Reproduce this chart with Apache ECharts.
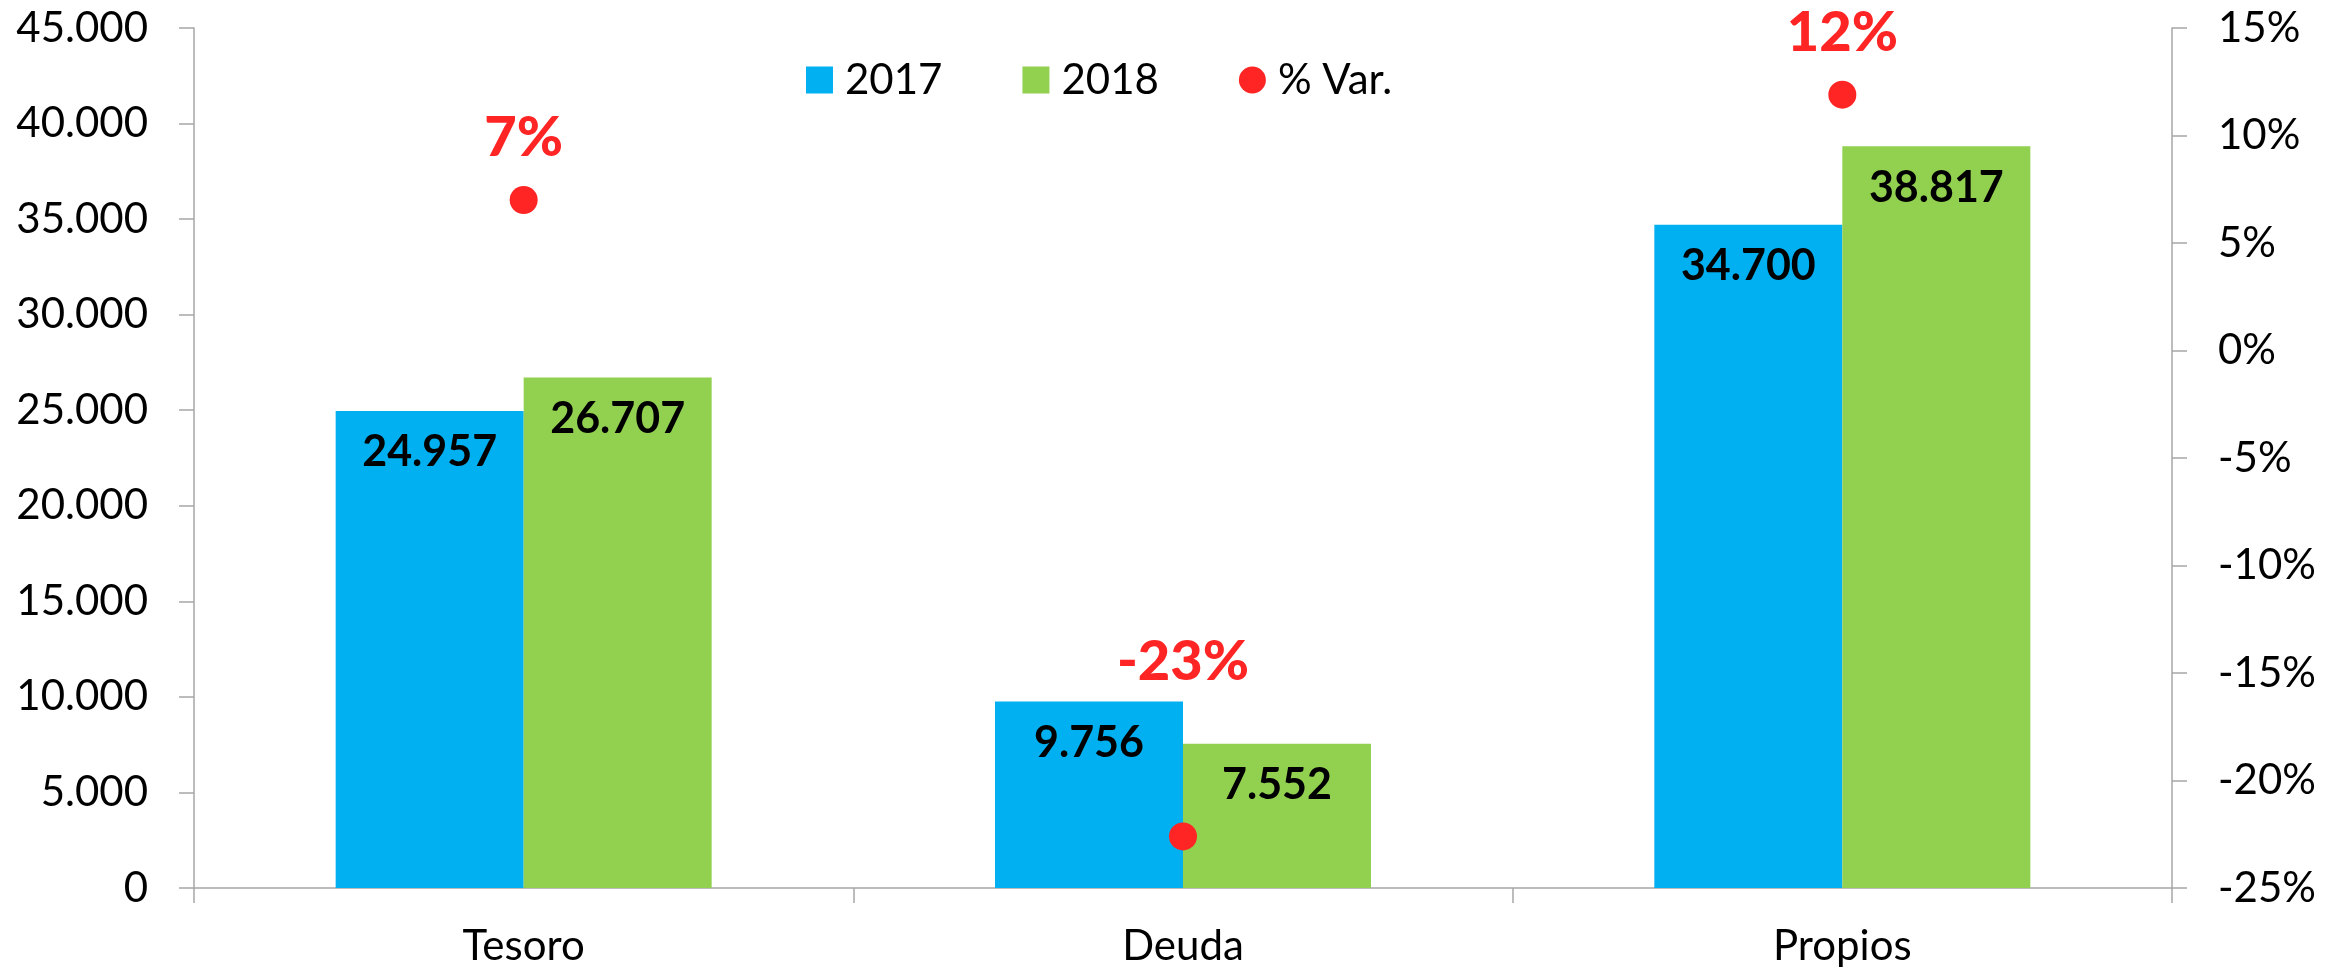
<!DOCTYPE html>
<html>
<head>
<meta charset="utf-8">
<title>Tesoro / Deuda / Propios</title>
<script src="https://cdn.jsdelivr.net/npm/echarts@6/dist/echarts.min.js"></script>
<style>
    html, body { margin: 0; padding: 0; background: #fff; }
    #chart { width: 2341px; height: 974px; }
</style>
</head>
<body>
<div id="chart"></div>
<script>
    // datos
    var categories = ['Tesoro', 'Deuda', 'Propios'];
    var values2017 = [24957, 9756, 34700];
    var values2018 = [26707, 7552, 38817];
    var pctVar = [7.0, -22.6, 11.9];      // % variacion (eje derecho)
    var leftTicks = { min: 0, max: 45000, step: 5000 };
    var rightTicks = { min: -25, max: 15, step: 5 };

    var RED = '#ff2525';
    var FONT = 'Lato';

    // 45000 -> "45.000"
    function fmt(v){
        return String(v).replace(/\B(?=(\d{3})+(?!\d))/g, '.');
    }

    // el punto de Deuda lleva la etiqueta por encima de las barras
    var varData = [];
    for(var i=0; i<pctVar.length; i++){
        var item = { value: pctVar[i] };
        if(i == 1){
            item.label = { offset: [0, -112] };
        }
        varData.push(item);
    }

    var axisLine = { show: true, lineStyle: { color: '#a6a6a6', width: 1.5 } };
    var axisTick = { show: true, length: 15, lineStyle: { color: '#a6a6a6', width: 1.5 } };

    var option = {
        animation: false,
        backgroundColor: '#fff',
        textStyle: { fontFamily: FONT },
        legend: {
            left: 801,
            top: 54,
            itemWidth: 27,
            itemHeight: 27,
            itemGap: 80,
            textStyle: { fontFamily: FONT, fontSize: 42, color: '#000', lineHeight: 42, padding: [0, 0, 0, 7] },
            data: [
                { name: '2017', icon: 'rect' },
                { name: '2018', icon: 'rect' },
                { name: '% Var.', icon: 'circle' }
            ]
        },
        grid: { left: 194, right: 169, top: 28, bottom: 86, containLabel: false },
        xAxis: {
            type: 'category',
            data: categories,
            axisLine: axisLine,
            axisTick: axisTick,
            axisLabel: { fontFamily: FONT, fontSize: 42, color: '#000', margin: 37 },
            splitLine: { show: false }
        },
        yAxis: [
            {
                type: 'value',
                min: leftTicks.min, max: leftTicks.max, interval: leftTicks.step,
                axisLine: axisLine,
                axisTick: axisTick,
                splitLine: { show: false },
                axisLabel: { fontFamily: FONT, fontSize: 42, color: '#000', margin: 46, formatter: fmt }
            },
            {
                type: 'value',
                position: 'right',
                min: rightTicks.min, max: rightTicks.max, interval: rightTicks.step,
                axisLine: axisLine,
                axisTick: axisTick,
                splitLine: { show: false },
                axisLabel: { fontFamily: FONT, fontSize: 42, color: '#000', margin: 46, formatter: '{value}%' }
            }
        ],
        series: [
            {
                name: '2017',
                type: 'bar',
                barWidth: 188,
                barGap: '0%',
                itemStyle: { color: '#00b0f0' },
                label: {
                    show: true, position: 'insideTop', distance: 20,
                    fontFamily: FONT, fontSize: 43, fontWeight: 'bold', color: '#000',
                    formatter: function(p){ return fmt(p.value); }
                },
                data: values2017
            },
            {
                name: '2018',
                type: 'bar',
                barWidth: 188,
                barGap: '0%',
                itemStyle: { color: '#92d050' },
                label: {
                    show: true, position: 'insideTop', distance: 20,
                    fontFamily: FONT, fontSize: 43, fontWeight: 'bold', color: '#000',
                    formatter: function(p){ return fmt(p.value); }
                },
                data: values2018
            },
            {
                name: '% Var.',
                type: 'scatter',
                yAxisIndex: 1,
                symbol: 'circle',
                symbolSize: 28,
                z: 5,
                itemStyle: { color: RED, opacity: 1 },
                label: {
                    show: true, position: 'top', distance: 20,
                    fontFamily: FONT, fontSize: 56, fontWeight: 900, color: RED,
                    formatter: function(p){ return Math.round(p.value) + '%'; }
                },
                data: varData
            }
        ]
    };

    var myChart = echarts.init(document.getElementById('chart'));
    myChart.setOption(option);
</script>
</body>
</html>
